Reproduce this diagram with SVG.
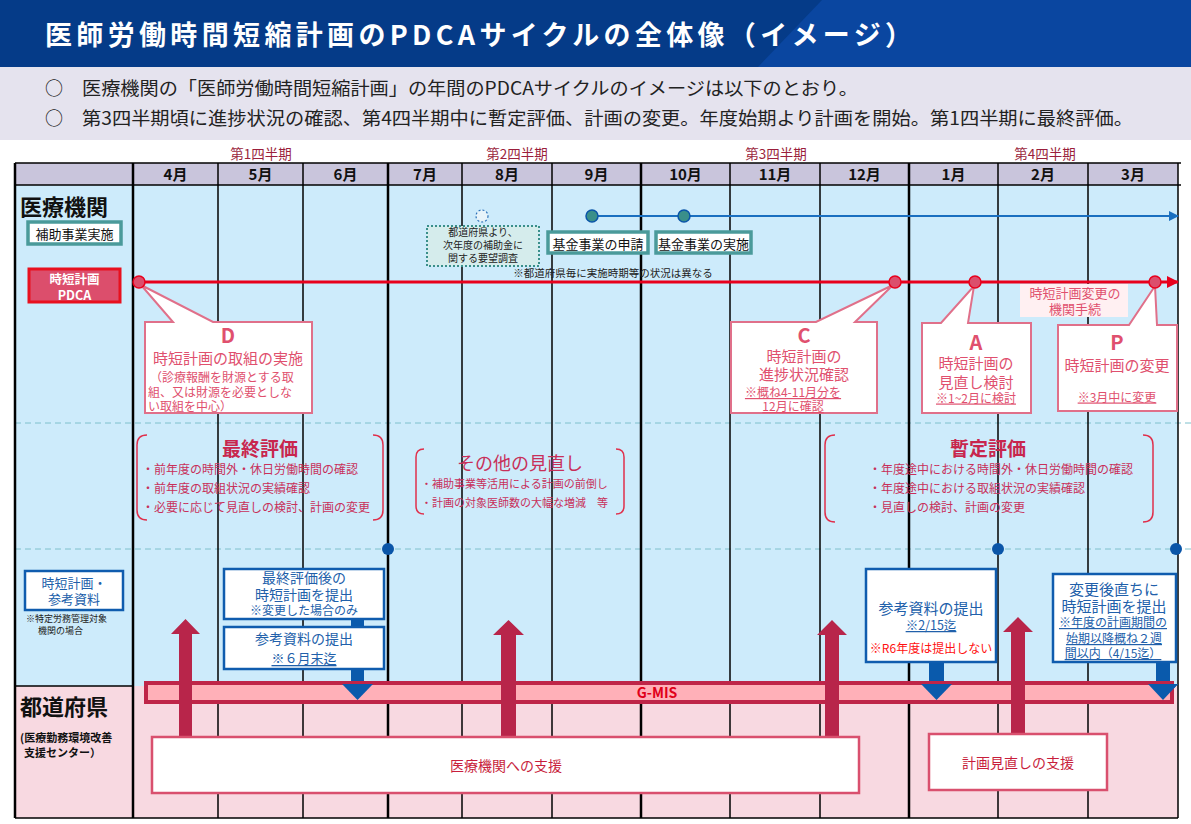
<svg xmlns="http://www.w3.org/2000/svg" width="1191" height="824" viewBox="0 0 1191 824">
<defs>
<style>
text{font-family:"Noto Sans CJK JP","Noto Sans",sans-serif;dominant-baseline:central}
.m{text-anchor:middle}
.b{font-weight:bold}
.vl{stroke:#000;stroke-width:1.5}
.ql{stroke:#000;stroke-width:2.5}
.dash{stroke:#7fc0cc;stroke-width:1;stroke-dasharray:6 4}
.pk{fill:#e0506e}
.pkd{fill:#c8264e}
.bl{fill:#2160aa}
.callout{fill:#fff;stroke:#e0708a;stroke-width:2}
.bbox{fill:#fff;stroke:#0f5cae;stroke-width:2.5}
.brk{fill:none;stroke:#e0304c;stroke-width:1.5}
.rdot{fill:#dc4e6c;stroke:#e8001c;stroke-width:1.5}
.upa{fill:#b8254a}
.dna{fill:#0a5aac}
.u{text-decoration:underline}
</style>
<marker id="ahBlue" markerWidth="10" markerHeight="10" refX="9" refY="5" orient="auto" markerUnits="userSpaceOnUse"><path d="M0,0 L10,5 L0,10 Z" fill="#1a6fc0"/></marker>
<marker id="ahRed" markerWidth="12" markerHeight="12" refX="11" refY="6" orient="auto" markerUnits="userSpaceOnUse"><path d="M0,0 L12,6 L0,12 Z" fill="#e8001c"/></marker>
</defs>

<!-- header -->
<g id="header">
<rect x="0" y="0" width="1191" height="67" fill="#053b88"/>
<polygon points="822,0 1191,0 1191,67 758,67" fill="#0a46a0"/>
<text x="45" y="33" fill="#fff" font-size="27" class="b" textLength="867" lengthAdjust="spacing">医師労働時間短縮計画のPDCAサイクルの全体像（イメージ）</text>
<rect x="0" y="67" width="1191" height="73" fill="#e5e3ee"/>
<text x="45" y="87" font-size="18" fill="#222">○</text>
<text x="82" y="87" font-size="18" fill="#222" textLength="776" lengthAdjust="spacingAndGlyphs">医療機関の「医師労働時間短縮計画」の年間のPDCAサイクルのイメージは以下のとおり。</text>
<text x="45" y="117" font-size="18" fill="#222">○</text>
<text x="82" y="117" font-size="18" fill="#222" textLength="1051" lengthAdjust="spacingAndGlyphs">第3四半期頃に進捗状況の確認、第4四半期中に暫定評価、計画の変更。年度始期より計画を開始。第1四半期に最終評価。</text>
</g>

<!-- table -->
<g id="table">
<rect x="15" y="163" width="1163" height="22" fill="#c9c5dc"/>
<rect x="15" y="185" width="1163" height="501" fill="#cdebfb"/>
<rect x="15" y="686" width="1163" height="132" fill="#f8d9e1"/>
<g fill="#9b1f3c" font-size="13.5">
<text x="261" y="153" class="m">第1四半期</text>
<text x="517" y="153" class="m">第2四半期</text>
<text x="776" y="153" class="m">第3四半期</text>
<text x="1045" y="153" class="m">第4四半期</text>
</g>
<g font-size="15" fill="#111">
<text x="175.5" y="173" class="m b">4月</text>
<text x="260.5" y="173" class="m b">5月</text>
<text x="345.5" y="173" class="m b">6月</text>
<text x="425" y="173" class="m b">7月</text>
<text x="507" y="173" class="m b">8月</text>
<text x="596.5" y="173" class="m b">9月</text>
<text x="685.5" y="173" class="m b">10月</text>
<text x="775" y="173" class="m b">11月</text>
<text x="864.5" y="173" class="m b">12月</text>
<text x="953.5" y="173" class="m b">1月</text>
<text x="1043" y="173" class="m b">2月</text>
<text x="1133" y="173" class="m b">3月</text>
</g>
<line x1="15" y1="423" x2="1191" y2="423" class="dash"/>
<line x1="15" y1="549" x2="1191" y2="549" class="dash"/>
<line x1="15" y1="163" x2="1181" y2="163" class="vl"/>
<line x1="15" y1="185" x2="1181" y2="185" class="vl"/>
<line x1="15" y1="686" x2="133" y2="686" class="vl"/>
<line x1="15" y1="818" x2="1178" y2="818" class="vl"/>
<line x1="15" y1="163" x2="15" y2="818" class="ql"/>
<line x1="133" y1="163" x2="133" y2="818" class="ql"/>
<line x1="218" y1="163" x2="218" y2="818" class="vl"/>
<line x1="303" y1="163" x2="303" y2="818" class="vl"/>
<line x1="388" y1="163" x2="388" y2="818" class="ql"/>
<line x1="462" y1="163" x2="462" y2="818" class="vl"/>
<line x1="552" y1="163" x2="552" y2="818" class="vl"/>
<line x1="641" y1="163" x2="641" y2="818" class="ql"/>
<line x1="730" y1="163" x2="730" y2="818" class="vl"/>
<line x1="820" y1="163" x2="820" y2="818" class="vl"/>
<line x1="909" y1="163" x2="909" y2="818" class="ql"/>
<line x1="998" y1="163" x2="998" y2="818" class="vl"/>
<line x1="1088" y1="163" x2="1088" y2="818" class="vl"/>
<line x1="1178" y1="163" x2="1178" y2="818" class="vl"/>
</g>

<!-- left labels -->
<g id="label-iryo">
<text x="20" y="205" font-size="22" class="b" fill="#111">医療機関</text>
</g>
<g id="node-hojo">
<rect x="28" y="222" width="93" height="22" fill="#fff" stroke="#4a9a9a" stroke-width="3.5"/>
<text x="74.5" y="233" font-size="13" class="m" fill="#111">補助事業実施</text>
</g>
<g id="node-pdca">
<rect x="29" y="269" width="91" height="33" fill="#dc4e6c" stroke="#e8101e" stroke-width="3"/>
<text font-size="12.5" class="m b" fill="#fff"><tspan x="74.5" y="278">時短計画</tspan><tspan x="74.5" y="294">PDCA</tspan></text>
</g>
<g id="label-todofuken">
<text x="20" y="705" font-size="22" class="b" fill="#111">都道府県</text>
<text font-size="11" class="b" fill="#111"><tspan x="20" y="737">(医療勤務環境改善</tspan><tspan x="24" y="752">支援センター）</tspan></text>
</g>

<!-- connectors -->
<g id="connectors">
<line x1="598" y1="216" x2="1178" y2="216" stroke="#1a6fc0" stroke-width="2" marker-end="url(#ahBlue)"/>
<line x1="139" y1="282" x2="1178" y2="282" stroke="#e8001c" stroke-width="3" marker-end="url(#ahRed)"/>
<path class="upa" d="M179,737 L179,634 L171,634 L185.5,619 L200,634 L192,634 L192,737 Z"/>
<path class="upa" d="M501,737 L501,635 L493,635 L508.5,620 L524,635 L516,635 L516,737 Z"/>
<path class="upa" d="M825,737 L825,635 L817,635 L832,620 L847,635 L839,635 L839,737 Z"/>
<path class="upa" d="M1011,734 L1011,632 L1003,632 L1018,617 L1033,632 L1025,632 L1025,734 Z"/>
<rect class="dna" x="351" y="619" width="13" height="8"/>
<path class="dna" d="M351,669 L364,669 L364,684 L373,684 L357.5,700 L342,684 L351,684 Z"/>
<path class="dna" d="M929,662 L944,662 L944,684 L952,684 L936.5,700 L921,684 L929,684 Z"/>
<path class="dna" d="M1156,662 L1170,662 L1170,684 L1178,684 L1163,700 L1148,684 L1156,684 Z"/>
</g>

<!-- blue timeline nodes -->
<g id="dot-survey"><circle cx="482" cy="216" r="6" fill="#e8f4fa" stroke="#2a6fb8" stroke-width="1.2" stroke-dasharray="2 2"/></g>
<g id="dot-apply"><circle cx="592" cy="216" r="6" fill="#3a8f8a" stroke="#0a55a8" stroke-width="1.5"/></g>
<g id="dot-exec"><circle cx="684" cy="216" r="6" fill="#3a8f8a" stroke="#0a55a8" stroke-width="1.5"/></g>

<g id="node-survey">
<rect x="427" y="226" width="112" height="40" fill="#d5ecec" stroke="#3a8f8a" stroke-width="2" stroke-dasharray="2 2"/>
<text font-size="10" class="m" fill="#222"><tspan x="483" y="231">都道府県より、</tspan><tspan x="483" y="244">次年度の補助金に</tspan><tspan x="483" y="257">関する要望調査</tspan></text>
</g>
<g id="node-apply">
<rect x="548" y="232" width="100" height="21" fill="#fff" stroke="#4a9a9a" stroke-width="3.5"/>
<text x="598" y="243" font-size="13" class="m" fill="#111">基金事業の申請</text>
</g>
<g id="node-exec">
<rect x="656" y="232" width="95" height="21" fill="#fff" stroke="#4a9a9a" stroke-width="3.5"/>
<text x="703.5" y="243" font-size="13" class="m" fill="#111">基金事業の実施</text>
</g>
<g id="note-kikin">
<text x="613" y="272" font-size="10.5" class="m" fill="#222">※都道府県毎に実施時期等の状況は異なる</text>
</g>

<!-- PDCA callouts -->
<g id="callout-D">
<path class="callout" d="M145,322 L173,322 L141,285 L213,322 L312,322 L312,413 L145,413 Z"/>
<text class="pk"><tspan x="228" y="334" font-size="20" class="m b">D</tspan><tspan x="228" y="357" font-size="15" class="m">時短計画の取組の実施</tspan></text>
<text font-size="12" class="pk"><tspan x="150" y="376">（診療報酬を財源とする取</tspan><tspan x="148" y="391">組、又は財源を必要としな</tspan><tspan x="148" y="405">い取組を中心）</tspan></text>
</g>
<g id="callout-C">
<path class="callout" d="M731,322 L816,322 L893,285 L855,322 L877,322 L877,413 L731,413 Z"/>
<text class="pk m"><tspan x="804" y="334" font-size="20" class="b">C</tspan><tspan x="804" y="355" font-size="15">時短計画の</tspan><tspan x="804" y="373" font-size="15">進捗状況確認</tspan></text>
<text font-size="12" class="m pk u"><tspan x="793" y="391">※概ね4-11月分を</tspan><tspan x="793" y="405">12月に確認</tspan></text>
</g>
<g id="callout-A">
<path class="callout" d="M922,323 L941,323 L974,286 L968,323 L1031,323 L1031,413 L922,413 Z"/>
<text class="pk m"><tspan x="976" y="341" font-size="20" class="b">A</tspan><tspan x="976" y="362" font-size="15">時短計画の</tspan><tspan x="976" y="381" font-size="15">見直し検討</tspan></text>
<text x="976" y="397" font-size="12" class="m pk u">※1~2月に検討</text>
</g>
<g id="callout-P">
<path class="callout" d="M1058,325 L1129,325 L1155,286 L1157,325 L1177,325 L1177,411 L1058,411 Z"/>
<text class="pk m"><tspan x="1117" y="341" font-size="20" class="b">P</tspan><tspan x="1117" y="364" font-size="15">時短計画の変更</tspan></text>
<text x="1117" y="396" font-size="12" class="m pk u">※3月中に変更</text>
</g>
<g id="node-tetsuzuki">
<rect x="1020" y="284" width="108" height="33" fill="#fff0f2"/>
<text font-size="13" class="m pk"><tspan x="1075" y="292">時短計画変更の</tspan><tspan x="1075" y="308">機関手続</tspan></text>
</g>

<!-- red dots -->
<g id="dot-start"><circle cx="139" cy="282" r="6" class="rdot"/></g>
<g id="dot-C"><circle cx="895" cy="282" r="6" class="rdot"/></g>
<g id="dot-A"><circle cx="975" cy="282" r="6" class="rdot"/></g>
<g id="dot-P"><circle cx="1155" cy="282" r="6" class="rdot"/></g>

<!-- evaluations -->
<g id="eval-final">
<path class="brk" d="M147,435 Q137,435 137,445 L137,510 Q137,520 147,520"/>
<path class="brk" d="M373,435 Q383,435 383,445 L383,510 Q383,520 373,520"/>
<text x="260" y="447" font-size="19" class="m b pkd">最終評価</text>
<text font-size="12" fill="#c8305a"><tspan x="142" y="468">・前年度の時間外・休日労働時間の確認</tspan><tspan x="142" y="487">・前年度の取組状況の実績確認</tspan><tspan x="142" y="506">・必要に応じて見直しの検討、計画の変更</tspan></text>
</g>
<g id="eval-other">
<path class="brk" d="M424,449 Q416,449 416,457 L416,506 Q416,514 424,514"/>
<path class="brk" d="M616,449 Q624,449 624,457 L624,506 Q624,514 616,514"/>
<text x="520" y="462" font-size="18" class="m" fill="#c8305a">その他の見直し</text>
<text font-size="11" fill="#c8305a"><tspan x="421" y="483">・補助事業等活用による計画の前倒し</tspan><tspan x="421" y="502">・計画の対象医師数の大幅な増減　等</tspan></text>
</g>
<g id="eval-interim">
<path class="brk" d="M835,435 Q825,435 825,445 L825,512 Q825,522 835,522"/>
<path class="brk" d="M1143,435 Q1153,435 1153,445 L1153,512 Q1153,522 1143,522"/>
<text x="988" y="447" font-size="19" class="m b pkd">暫定評価</text>
<text font-size="12" fill="#c8305a"><tspan x="869" y="468">・年度途中における時間外・休日労働時間の確認</tspan><tspan x="869" y="487">・年度途中における取組状況の実績確認</tspan><tspan x="869" y="506">・見直しの検討、計画の変更</tspan></text>
</g>

<!-- blue dots -->
<g id="dot-b1"><circle cx="388" cy="549" r="6" fill="#0a55a8"/></g>
<g id="dot-b2"><circle cx="998" cy="549" r="6" fill="#0a55a8"/></g>
<g id="dot-b3"><circle cx="1176" cy="549" r="6" fill="#0a55a8"/></g>

<!-- submissions -->
<g id="node-left-plan">
<rect x="25" y="571" width="98" height="39" class="bbox"/>
<text font-size="13" class="m bl"><tspan x="74" y="582">時短計画・</tspan><tspan x="74" y="598">参考資料</tspan></text>
<text font-size="9" fill="#222"><tspan x="26" y="618">※特定労務管理対象</tspan><tspan x="38" y="630">機関の場合</tspan></text>
</g>
<g id="node-submit-final">
<rect x="224" y="569" width="160" height="50" class="bbox"/>
<text class="m bl"><tspan x="304" y="577" font-size="14">最終評価後の</tspan><tspan x="304" y="594" font-size="14">時短計画を提出</tspan><tspan x="304" y="609" font-size="12">※変更した場合のみ</tspan></text>
</g>
<g id="node-submit-ref1">
<rect x="224" y="627" width="160" height="42" class="bbox"/>
<text class="m bl"><tspan x="304" y="638" font-size="14">参考資料の提出</tspan><tspan x="304" y="657" font-size="13" class="u">※６月末迄</tspan></text>
</g>
<g id="node-submit-ref2">
<rect x="866" y="569" width="130" height="93" class="bbox"/>
<text class="m bl"><tspan x="931" y="607" font-size="15">参考資料の提出</tspan><tspan x="931" y="624" font-size="12.5" class="u">※2/15迄</tspan></text>
<text x="931" y="647" font-size="12" class="m" fill="#ff1010">※R6年度は提出しない</text>
</g>
<g id="node-submit-change">
<rect x="1053" y="574" width="123" height="88" class="bbox"/>
<text class="m bl"><tspan x="1114" y="588" font-size="15">変更後直ちに</tspan><tspan x="1114" y="605" font-size="15">時短計画を提出</tspan></text>
<text font-size="12" class="m bl u"><tspan x="1113" y="621">※年度の計画期間の</tspan><tspan x="1114" y="637">始期以降概ね２週</tspan><tspan x="1113" y="652">間以内（4/15迄）</tspan></text>
</g>

<!-- G-MIS -->
<g id="node-gmis">
<rect x="146" y="683" width="1026" height="19" fill="#ffb0b8" stroke="#bf2548" stroke-width="4"/>
<text x="657" y="692" font-size="14" class="m b" fill="#e00018">G-MIS</text>
</g>
<g id="gmis-overlays">
<rect class="upa" x="179" y="680" width="13" height="25"/>
<rect class="upa" x="501" y="680" width="15" height="25"/>
<rect class="upa" x="825" y="680" width="14" height="25"/>
<rect class="upa" x="1011" y="680" width="14" height="25"/>
<path class="dna" d="M342,684 L373,684 L357.5,700 Z"/>
<path class="dna" d="M921,684 L952,684 L936.5,700 Z"/>
<path class="dna" d="M1148,684 L1178,684 L1163,700 Z"/>
</g>

<!-- support boxes -->
<g id="node-support">
<rect x="152" y="737" width="707" height="56" fill="#fff" stroke="#d9506e" stroke-width="2.5"/>
<text x="506" y="765" font-size="14" class="m" fill="#c81e3c">医療機関への支援</text>
</g>
<g id="node-review-support">
<rect x="929" y="734" width="178" height="56" fill="#fff" stroke="#d9506e" stroke-width="2.5"/>
<text x="1018" y="762" font-size="14" class="m" fill="#c81e3c">計画見直しの支援</text>
</g>
</svg>
